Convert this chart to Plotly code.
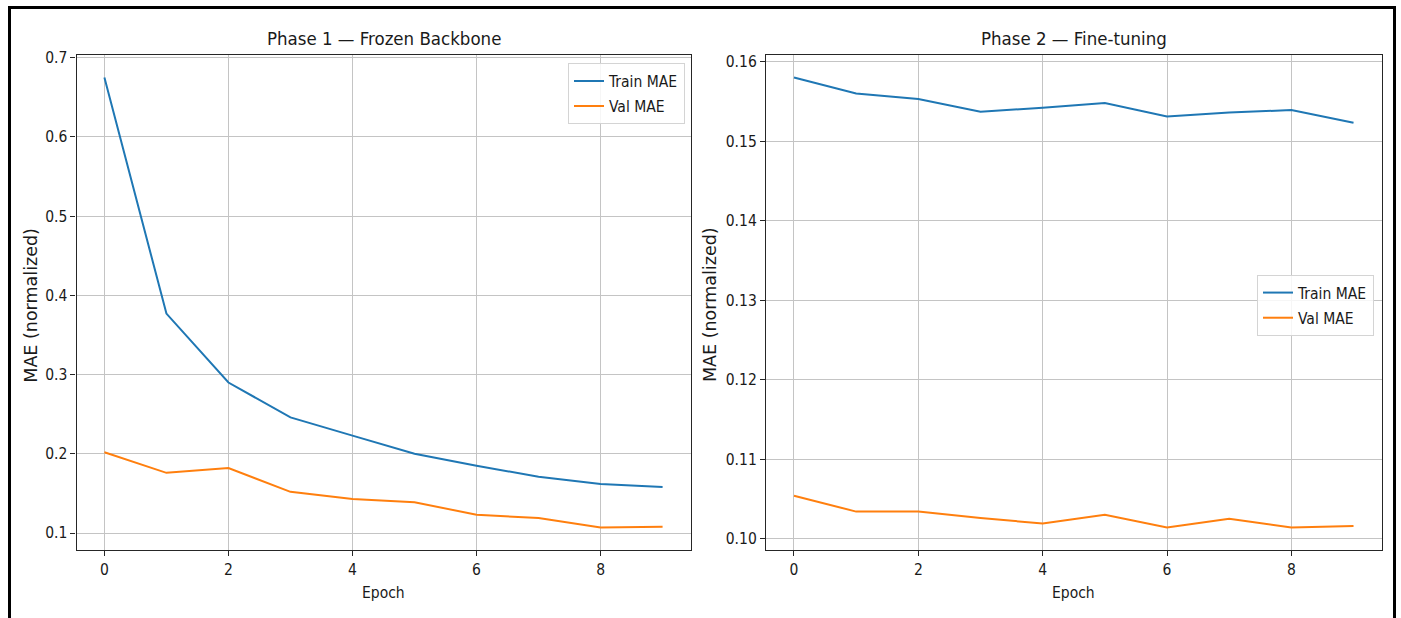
import plotly.graph_objects as go

# ---- data ----
epochs = list(range(10))
p1_train = [0.675, 0.377, 0.290, 0.246, 0.223, 0.200, 0.185, 0.171, 0.162, 0.158]
p1_val = [0.202, 0.176, 0.182, 0.152, 0.143, 0.139, 0.123, 0.119, 0.107, 0.108]
p2_train = [0.1580, 0.1560, 0.1553, 0.1537, 0.1542, 0.1548, 0.1531, 0.1536, 0.1539, 0.1523]
p2_val = [0.1054, 0.1034, 0.1034, 0.1026, 0.1019, 0.1030, 0.1014, 0.1025, 0.1014, 0.1016]

x_ticks = [0, 2, 4, 6, 8]
p1_yticks = [0.1, 0.2, 0.3, 0.4, 0.5, 0.6, 0.7]
p2_yticks = [0.10, 0.11, 0.12, 0.13, 0.14, 0.15, 0.16]

titles = ["Phase 1 — Frozen Backbone", "Phase 2 — Fine-tuning"]
x_label = "Epoch"
y_label = "MAE (normalized)"
series_names = ["Train MAE", "Val MAE"]
colors = ["#1f77b4", "#ff7f0e"]

W, H = 1401, 618
COND = "DejaVu Sans Condensed, Liberation Sans Narrow, DejaVu Sans, sans-serif"
NORM = "DejaVu Sans, sans-serif"


def rng(vals, m=0.05):
    lo, hi = min(vals), max(vals)
    d = hi - lo
    return [lo - m * d, hi + m * d]


def px_x(p):
    return p / W


def px_y(p):
    # compensate the small vertical offset seen in the rendered page
    q = (p - 6) * H / (H - 6)
    return 1 - q / H


fig = go.Figure()

# pixel geometry of the two axes boxes
boxes = [(76.5, 690.5), (766, 1381.5)]
top, bottom = 55, 550
ylabel_x = [30.7, 710]
legend_pos = [(685, 63.3), (1374, 275)]

panels = [(p1_train, p1_val, p1_yticks, "%.1f"), (p2_train, p2_val, p2_yticks, "%.2f")]

for i, (tr, va, yt, fmt) in enumerate(panels):
    xa = "x" if i == 0 else "x2"
    ya = "y" if i == 0 else "y2"
    leg = "legend" if i == 0 else "legend2"
    for j, (name, vals, c) in enumerate(zip(series_names, [tr, va], colors)):
        fig.add_trace(go.Scatter(x=epochs, y=vals, mode="lines", name=name,
                                 line=dict(color=c, width=2), xaxis=xa, yaxis=ya,
                                 legend=leg, legendgroup=f"g{i}{j}", showlegend=True))
    x0, x1 = boxes[i]
    axis_common = dict(showline=True, mirror=True, linecolor="#262626", linewidth=1.2,
                       showgrid=True, gridcolor="#c4c4c4", gridwidth=1,
                       ticks="outside", ticklen=5, tickwidth=1, tickcolor="#262626",
                       zeroline=False,
                       tickfont=dict(family=COND, size=15.5, color="#1a1a1a"))
    xkey = "xaxis" if i == 0 else "xaxis2"
    ykey = "yaxis" if i == 0 else "yaxis2"
    fig.update_layout(**{
        xkey: dict(domain=[px_x(x0), px_x(x1)], anchor=ya, range=[-0.45, 9.45],
                   tickvals=x_ticks, ticktext=[str(v) for v in x_ticks], **axis_common),
        ykey: dict(domain=[px_y(bottom), px_y(top)], anchor=xa, range=rng(tr + va),
                   tickvals=yt, ticktext=[fmt % v for v in yt], **axis_common),
    })
    cx = (x0 + x1) / 2
    fig.add_annotation(text=titles[i], x=px_x(cx), y=px_y(38), xref="paper", yref="paper",
                       showarrow=False, xanchor="center", yanchor="middle",
                       font=dict(family=COND, size=18.5, color="#1a1a1a"))
    fig.add_annotation(text=x_label, x=px_x(cx), y=px_y(593), xref="paper", yref="paper",
                       showarrow=False, xanchor="center", yanchor="middle",
                       font=dict(family=COND, size=15.5, color="#1a1a1a"))
    fig.add_annotation(text=y_label, x=px_x(ylabel_x[i]), y=px_y(305),
                       xref="paper", yref="paper", textangle=-90,
                       showarrow=False, xanchor="center", yanchor="middle",
                       font=dict(family=NORM, size=17.5, color="#1a1a1a"))

legend_common = dict(bgcolor="rgba(255,255,255,0.85)", bordercolor="#d4d4d4", borderwidth=1,
                     font=dict(family=COND, size=15.5, color="#1a1a1a"),
                     xanchor="right", yanchor="top", xref="paper", yref="paper",
                     tracegroupgap=2, itemwidth=30)

fig.update_layout(
    width=W, height=H,
    margin=dict(l=0, r=0, t=0, b=0),
    paper_bgcolor="white", plot_bgcolor="white",
    legend=dict(x=px_x(legend_pos[0][0]), y=px_y(legend_pos[0][1]), **legend_common),
    legend2=dict(x=px_x(legend_pos[1][0]), y=px_y(legend_pos[1][1]), **legend_common),
    shapes=[dict(type="rect", xref="paper", yref="paper",
                 x0=px_x(9.5), x1=px_x(1394.5), y0=-0.05, y1=px_y(7.5),
                 line=dict(color="black", width=3), fillcolor="rgba(0,0,0,0)", layer="above")],
)

fig.write_html(
    "out.html",
    config={"displayModeBar": False},
    post_script=(
        "document.body.style.margin='0px';"
        "document.body.style.overflow='hidden';"
        "var d=document.getElementById('{plot_id}');"
        "d.style.position='absolute';d.style.top='0px';d.style.left='0px';"
    ),
)
